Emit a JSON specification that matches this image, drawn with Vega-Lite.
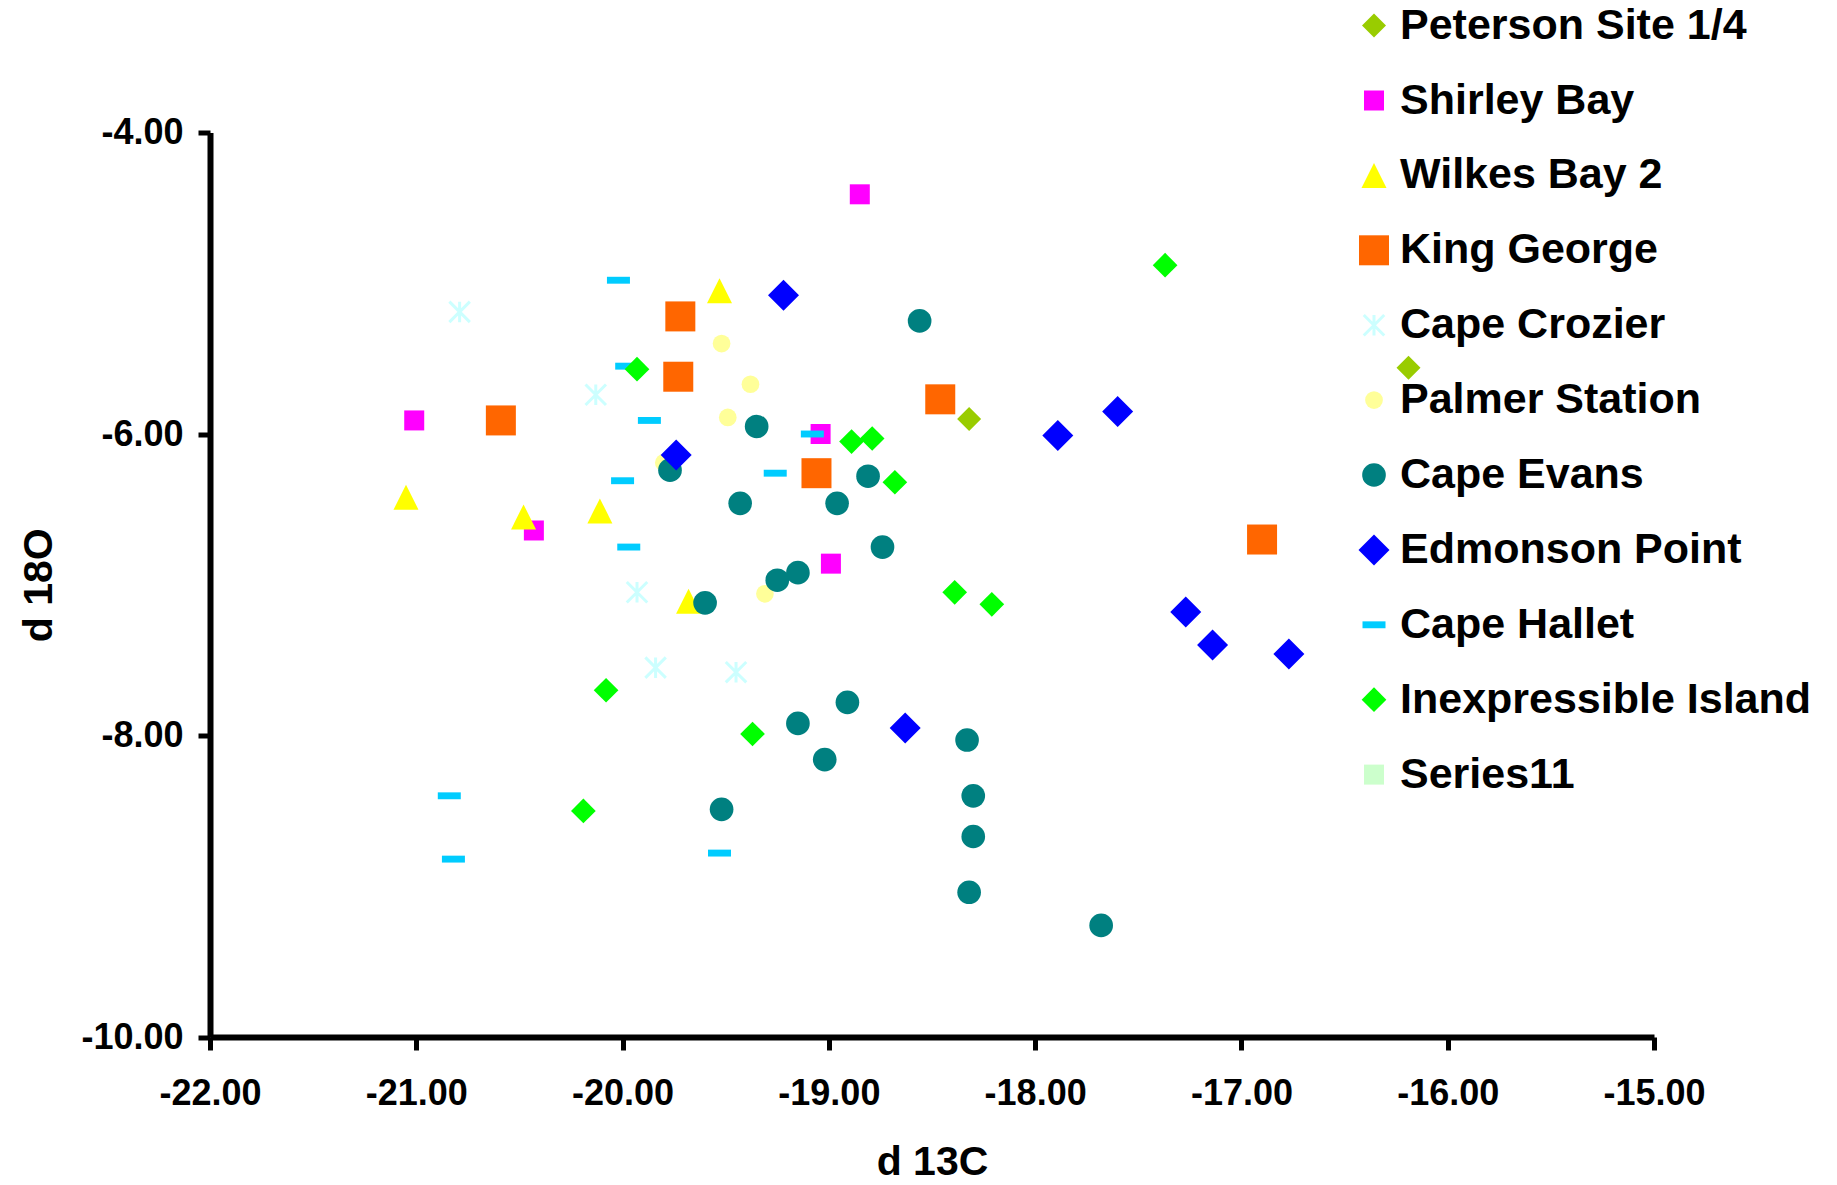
{
  "$schema": "https://vega.github.io/schema/vega-lite/v6.json",
  "width": 1444,
  "height": 904.5,
  "autosize": {"type": "none"},
  "padding": {"left": 210, "top": 132.5, "right": 183, "bottom": 148},
  "background": "white",
  "config": {
    "view": {"stroke": null},
    "font": "Liberation Sans",
    "locale": {"number": {"decimal": ".", "thousands": ",", "grouping": [3], "currency": ["$", ""], "minus": "-"}}
  },
  "data": {
    "values": [
      {"site": "Peterson Site 1/4", "d13C": -18.32, "d18O": -5.90},
      {"site": "Peterson Site 1/4", "d13C": -16.19, "d18O": -5.56},
      {"site": "Shirley Bay", "d13C": -18.85, "d18O": -4.41},
      {"site": "Shirley Bay", "d13C": -21.01, "d18O": -5.91},
      {"site": "Shirley Bay", "d13C": -19.04, "d18O": -6.00},
      {"site": "Shirley Bay", "d13C": -20.43, "d18O": -6.64},
      {"site": "Shirley Bay", "d13C": -18.99, "d18O": -6.86},
      {"site": "Wilkes Bay 2", "d13C": -19.53, "d18O": -5.05},
      {"site": "Wilkes Bay 2", "d13C": -21.05, "d18O": -6.42},
      {"site": "Wilkes Bay 2", "d13C": -20.11, "d18O": -6.51},
      {"site": "Wilkes Bay 2", "d13C": -20.48, "d18O": -6.55},
      {"site": "Wilkes Bay 2", "d13C": -19.68, "d18O": -7.11},
      {"site": "King George", "d13C": -19.72, "d18O": -5.22},
      {"site": "King George", "d13C": -19.73, "d18O": -5.62},
      {"site": "King George", "d13C": -20.59, "d18O": -5.91},
      {"site": "King George", "d13C": -18.46, "d18O": -5.77},
      {"site": "King George", "d13C": -19.06, "d18O": -6.26},
      {"site": "King George", "d13C": -16.90, "d18O": -6.70},
      {"site": "Cape Crozier", "d13C": -20.79, "d18O": -5.19},
      {"site": "Cape Crozier", "d13C": -20.13, "d18O": -5.74},
      {"site": "Cape Crozier", "d13C": -19.93, "d18O": -7.05},
      {"site": "Cape Crozier", "d13C": -19.84, "d18O": -7.55},
      {"site": "Cape Crozier", "d13C": -19.45, "d18O": -7.58},
      {"site": "Palmer Station", "d13C": -19.52, "d18O": -5.40},
      {"site": "Palmer Station", "d13C": -19.38, "d18O": -5.67},
      {"site": "Palmer Station", "d13C": -19.49, "d18O": -5.89},
      {"site": "Palmer Station", "d13C": -19.80, "d18O": -6.19},
      {"site": "Palmer Station", "d13C": -19.31, "d18O": -7.06},
      {"site": "Cape Evans", "d13C": -18.56, "d18O": -5.25},
      {"site": "Cape Evans", "d13C": -19.35, "d18O": -5.95},
      {"site": "Cape Evans", "d13C": -19.77, "d18O": -6.24},
      {"site": "Cape Evans", "d13C": -18.81, "d18O": -6.28},
      {"site": "Cape Evans", "d13C": -19.43, "d18O": -6.46},
      {"site": "Cape Evans", "d13C": -18.96, "d18O": -6.46},
      {"site": "Cape Evans", "d13C": -18.74, "d18O": -6.75},
      {"site": "Cape Evans", "d13C": -19.15, "d18O": -6.92},
      {"site": "Cape Evans", "d13C": -19.25, "d18O": -6.97},
      {"site": "Cape Evans", "d13C": -19.60, "d18O": -7.12},
      {"site": "Cape Evans", "d13C": -18.91, "d18O": -7.78},
      {"site": "Cape Evans", "d13C": -19.15, "d18O": -7.92},
      {"site": "Cape Evans", "d13C": -19.02, "d18O": -8.16},
      {"site": "Cape Evans", "d13C": -18.33, "d18O": -8.03},
      {"site": "Cape Evans", "d13C": -19.52, "d18O": -8.49},
      {"site": "Cape Evans", "d13C": -18.30, "d18O": -8.40},
      {"site": "Cape Evans", "d13C": -18.30, "d18O": -8.67},
      {"site": "Cape Evans", "d13C": -18.32, "d18O": -9.04},
      {"site": "Cape Evans", "d13C": -17.68, "d18O": -9.26},
      {"site": "Edmonson Point", "d13C": -19.22, "d18O": -5.08},
      {"site": "Edmonson Point", "d13C": -17.89, "d18O": -6.01},
      {"site": "Edmonson Point", "d13C": -17.60, "d18O": -5.85},
      {"site": "Edmonson Point", "d13C": -19.74, "d18O": -6.14},
      {"site": "Edmonson Point", "d13C": -17.27, "d18O": -7.18},
      {"site": "Edmonson Point", "d13C": -17.14, "d18O": -7.40},
      {"site": "Edmonson Point", "d13C": -16.77, "d18O": -7.46},
      {"site": "Edmonson Point", "d13C": -18.63, "d18O": -7.95},
      {"site": "Cape Hallet", "d13C": -20.02, "d18O": -4.98},
      {"site": "Cape Hallet", "d13C": -19.98, "d18O": -5.55},
      {"site": "Cape Hallet", "d13C": -19.87, "d18O": -5.91},
      {"site": "Cape Hallet", "d13C": -19.08, "d18O": -6.00},
      {"site": "Cape Hallet", "d13C": -20.00, "d18O": -6.31},
      {"site": "Cape Hallet", "d13C": -19.26, "d18O": -6.26},
      {"site": "Cape Hallet", "d13C": -19.97, "d18O": -6.75},
      {"site": "Cape Hallet", "d13C": -20.84, "d18O": -8.40},
      {"site": "Cape Hallet", "d13C": -20.82, "d18O": -8.82},
      {"site": "Cape Hallet", "d13C": -19.53, "d18O": -8.78},
      {"site": "Inexpressible Island", "d13C": -17.37, "d18O": -4.88},
      {"site": "Inexpressible Island", "d13C": -19.93, "d18O": -5.57},
      {"site": "Inexpressible Island", "d13C": -18.89, "d18O": -6.05},
      {"site": "Inexpressible Island", "d13C": -18.79, "d18O": -6.03},
      {"site": "Inexpressible Island", "d13C": -18.68, "d18O": -6.32},
      {"site": "Inexpressible Island", "d13C": -18.39, "d18O": -7.05},
      {"site": "Inexpressible Island", "d13C": -18.21, "d18O": -7.13},
      {"site": "Inexpressible Island", "d13C": -20.08, "d18O": -7.70},
      {"site": "Inexpressible Island", "d13C": -19.37, "d18O": -7.99},
      {"site": "Inexpressible Island", "d13C": -20.19, "d18O": -8.50}
    ]
  },
  "mark": {"type": "point", "filled": true, "opacity": 1},
  "encoding": {
    "x": {
      "field": "d13C",
      "type": "quantitative",
      "scale": {"domain": [-22, -15], "nice": false, "zero": false},
      "axis": {
        "values": [-22, -21, -20, -19, -18, -17, -16, -15],
        "format": ".2f",
        "grid": false,
        "domainColor": "black",
        "domainWidth": 6,
        "tickColor": "black",
        "tickWidth": 5,
        "tickSize": 13,
        "labelFont": "Liberation Sans",
        "labelFontSize": 36,
        "labelFontWeight": "bold",
        "labelColor": "black",
        "labelPadding": 26,
        "labelFlush": false,
        "labelOverlap": false,
        "title": "d 13C",
        "titleFont": "Liberation Sans",
        "titleFontSize": 41,
        "titleFontWeight": "bold",
        "titleColor": "black",
        "titlePadding": 31
      }
    },
    "y": {
      "field": "d18O",
      "type": "quantitative",
      "scale": {"domain": [-10, -4], "nice": false, "zero": false},
      "axis": {
        "values": [-10, -8, -6, -4],
        "format": ".2f",
        "grid": false,
        "domainColor": "black",
        "domainWidth": 6,
        "tickColor": "black",
        "tickWidth": 5,
        "tickSize": 12,
        "labelFont": "Liberation Sans",
        "labelFontSize": 36,
        "labelFontWeight": "bold",
        "labelColor": "black",
        "labelPadding": 15,
        "labelFlush": false,
        "labelOverlap": false,
        "title": "d 18O",
        "titleFont": "Liberation Sans",
        "titleFontSize": 41,
        "titleFontWeight": "bold",
        "titleColor": "black",
        "titlePadding": 20
      }
    },
    "color": {
      "field": "site",
      "type": "nominal",
      "scale": {
        "domain": ["Peterson Site 1/4", "Shirley Bay", "Wilkes Bay 2", "King George", "Cape Crozier", "Palmer Station", "Cape Evans", "Edmonson Point", "Cape Hallet", "Inexpressible Island", "Series11"],
        "range": ["#99CC00", "#FF00FF", "#FFFF00", "#FF6600", "#CCFFFF", "#FFFF99", "#008080", "#0000FF", "#00CCFF", "#00FF00", "#CCFFCC"]
      },
      "legend": {
        "title": null,
        "orient": "none",
        "legendX": 1142.5,
        "legendY": -128.4,
        "direction": "vertical",
        "padding": 0,
        "symbolOffset": 0,
        "labelFont": "Liberation Sans",
        "labelFontSize": 43,
        "labelFontWeight": "bold",
        "labelColor": "black",
        "labelLimit": 800,
        "labelOffset": 4.5,
        "rowPadding": 30.9
      }
    },
    "stroke": {
      "field": "site",
      "type": "nominal",
      "scale": {
        "domain": ["Peterson Site 1/4", "Shirley Bay", "Wilkes Bay 2", "King George", "Cape Crozier", "Palmer Station", "Cape Evans", "Edmonson Point", "Cape Hallet", "Inexpressible Island", "Series11"],
        "range": ["#99CC00", "#FF00FF", "#FFFF00", "#FF6600", "#CCFFFF", "#FFFF99", "#008080", "#0000FF", "#00CCFF", "#00FF00", "#CCFFCC"]
      },
      "legend": {"title": null}
    },
    "shape": {
      "field": "site",
      "type": "nominal",
      "scale": {
        "domain": ["Peterson Site 1/4", "Shirley Bay", "Wilkes Bay 2", "King George", "Cape Crozier", "Palmer Station", "Cape Evans", "Edmonson Point", "Cape Hallet", "Inexpressible Island", "Series11"],
        "range": ["diamond", "square", "M0,-1L1,1L-1,1Z", "square", "M0,-1L0,1M-1,-1L1,1M-1,1L1,-1", "circle", "circle", "diamond", "M-1,-0.3L1,-0.3L1,0.3L-1,0.3Z", "diamond", "square"]
      },
      "legend": {"title": null}
    },
    "size": {
      "field": "site",
      "type": "nominal",
      "scale": {
        "type": "ordinal",
        "domain": ["Peterson Site 1/4", "Shirley Bay", "Wilkes Bay 2", "King George", "Cape Crozier", "Palmer Station", "Cape Evans", "Edmonson Point", "Cape Hallet", "Inexpressible Island", "Series11"],
        "range": [576, 400, 625, 900, 420, 314, 560, 961, 529, 610, 400]
      },
      "legend": {"title": null}
    },
    "strokeWidth": {
      "field": "site",
      "type": "nominal",
      "scale": {
        "type": "ordinal",
        "domain": ["Peterson Site 1/4", "Shirley Bay", "Wilkes Bay 2", "King George", "Cape Crozier", "Palmer Station", "Cape Evans", "Edmonson Point", "Cape Hallet", "Inexpressible Island", "Series11"],
        "range": [0, 0, 0, 0, 3, 0, 0, 0, 0, 0, 0]
      },
      "legend": {"title": null}
    }
  }
}
